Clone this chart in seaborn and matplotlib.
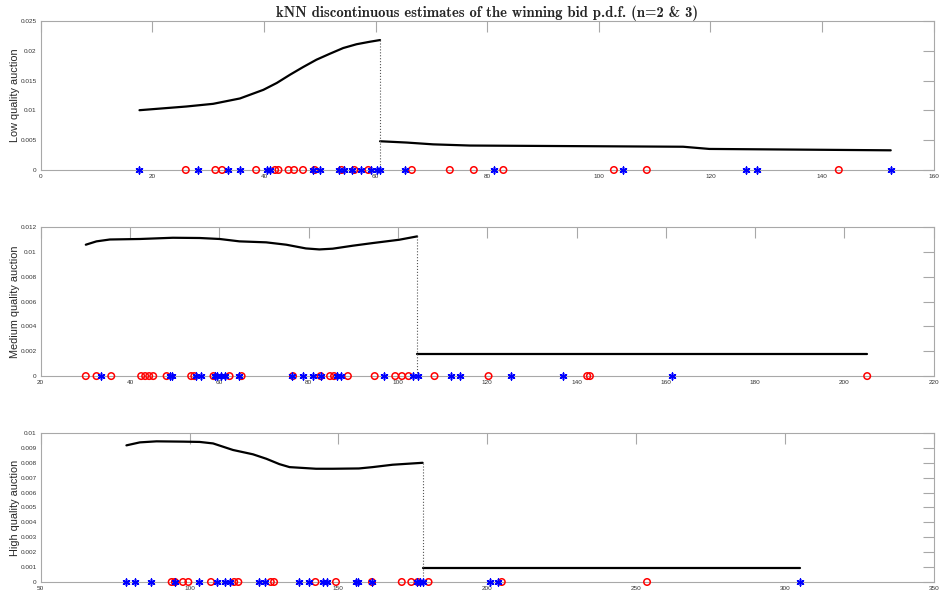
import numpy as np
import seaborn as sns
import matplotlib.pyplot as plt
from matplotlib.ticker import FuncFormatter

sns.set_style('white')
plt.rcParams['font.family'] = ['Liberation Sans', 'DejaVu Sans']

# Low quality auction
low_x_left = [17.7, 26.1, 30.9, 35.7, 39.9, 42.3, 44.7, 47.0, 49.4, 51.8, 54.2, 56.6, 59.0, 60.8]
low_y_left = [0.01003, 0.01065, 0.0111, 0.0120, 0.01345, 0.0146, 0.0160, 0.01726, 0.0185,
              0.0195, 0.02046, 0.0211, 0.02152, 0.0218]
low_x_right = [60.8, 65.6, 70.3, 76.9, 115.1, 119.8, 152.3]
low_y_right = [0.00482, 0.0046, 0.0043, 0.0041, 0.0039, 0.00353, 0.0033]
low_n2 = [17.7, 28.2, 33.6, 35.7, 40.5, 41.0, 48.8, 50.0, 53.5, 54.4, 55.7, 57.3, 59.1, 60.2,
          60.8, 65.3, 81.2, 104.3, 126.4, 128.4, 152.3]
low_n3 = [26.0, 31.3, 32.5, 38.6, 42.0, 42.6, 44.4, 45.4, 47.0, 49.1, 53.9, 56.2, 58.7, 66.5,
          73.3, 77.6, 82.9, 102.7, 108.6, 143.0]

# Medium quality auction
med_x_left = [30.1, 32.5, 35.5, 42.2, 49.6, 55.6, 60.1, 64.5, 70.5, 75.0, 79.4, 82.4, 85.4,
              89.9, 94.3, 100.3, 104.3]
med_y_left = [0.01058, 0.01085, 0.0110, 0.01104, 0.01114, 0.01112, 0.01104, 0.01085, 0.01077,
              0.01058, 0.01028, 0.0102, 0.01026, 0.0105, 0.01071, 0.01098, 0.01125]
med_x_right = [104.3, 205.1]
med_y_right = [0.00178, 0.00178]
med_n2 = [33.6, 48.9, 49.5, 54.7, 55.9, 59.0, 59.5, 60.4, 61.3, 64.4, 76.3, 78.8, 80.9, 82.7,
          86.3, 87.2, 96.9, 103.3, 104.5, 111.9, 113.9, 125.4, 137.0, 161.5]
med_n3 = [30.1, 32.5, 35.8, 42.5, 43.4, 44.3, 45.2, 48.2, 53.7, 54.4, 58.7, 62.3, 65.0, 76.5,
          82.7, 84.8, 85.7, 88.8, 94.8, 99.4, 100.9, 102.4, 108.2, 120.3, 142.4, 143.0, 205.1]

# High quality auction
high_x_left = [78.8, 83.3, 88.9, 97.8, 103.4, 107.9, 114.6, 121.3, 125.8, 130.2, 133.6, 142.5,
               148.1, 156.9, 161.5, 168.2, 178.3]
high_y_left = [0.00917, 0.00937, 0.00944, 0.00942, 0.0094, 0.0093, 0.00886, 0.00857, 0.00827,
               0.00791, 0.00771, 0.0076, 0.0076, 0.00762, 0.00771, 0.00787, 0.0080]
high_x_right = [178.3, 305.2]
high_y_right = [0.00092, 0.00092]
high_n2 = [78.8, 81.8, 87.2, 95.1, 103.2, 109.2, 111.9, 113.5, 123.3, 125.5, 136.9, 140.1,
           145.0, 146.3, 155.9, 156.6, 161.3, 176.3, 177.4, 178.3, 201.1, 203.6, 305.2]
high_n3 = [94.0, 95.1, 97.8, 99.6, 107.2, 115.0, 116.4, 127.3, 128.4, 142.3, 149.2, 161.3,
           171.3, 174.5, 176.7, 180.3, 204.9, 253.7]

panels = [
    ('Low quality auction', low_x_left, low_y_left, low_x_right, low_y_right, low_n2, low_n3,
     (0, 160), np.arange(0, 161, 20), (0, 0.025), np.arange(0, 0.0251, 0.005)),
    ('Medium quality auction', med_x_left, med_y_left, med_x_right, med_y_right, med_n2, med_n3,
     (20, 220), np.arange(20, 221, 20), (0, 0.012), np.arange(0, 0.0121, 0.002)),
    ('High quality auction', high_x_left, high_y_left, high_x_right, high_y_right, high_n2, high_n3,
     (50, 350), np.arange(50, 351, 50), (0, 0.01), np.arange(0, 0.0101, 0.001)),
]

fig = plt.figure(figsize=(9.4, 5.96), dpi=100)
bottoms = [0.7148, 0.369, 0.0235]
grey = '#a8a8a8'

for (label, xl, yl, xr, yr, n2, n3, xlim, xt, ylim, yt), b in zip(panels, bottoms):
    ax = fig.add_axes([0.0433, b, 0.950, 0.25])
    sns.lineplot(x=xl, y=yl, color='black', linewidth=1.6, ax=ax, sort=False, estimator=None)
    sns.lineplot(x=xr, y=yr, color='black', linewidth=1.6, ax=ax, sort=False, estimator=None)
    # dotted jump at the discontinuity
    ax.plot([xl[-1], xl[-1]], [yl[-1], 0], linestyle=':', color='#555555', linewidth=0.8)
    sns.scatterplot(x=n3, y=np.zeros(len(n3)), marker='o', s=22, facecolor='none',
                    edgecolor='red', linewidth=1.1, ax=ax, zorder=3, clip_on=False)
    sns.scatterplot(x=n2, y=np.zeros(len(n2)), marker=(6, 2, 0), s=24, color='blue',
                    edgecolor='blue', linewidth=1.1, ax=ax, zorder=4, clip_on=False)
    ax.set_xlim(*xlim)
    ax.set_ylim(*ylim)
    ax.set_xticks(xt)
    ax.set_yticks(yt)
    ax.xaxis.set_major_formatter(FuncFormatter(lambda v, p: '%g' % v))
    ax.yaxis.set_major_formatter(FuncFormatter(lambda v, p: '%g' % round(v, 4)))
    ax.tick_params(direction='in', length=8, width=0.8, color=grey, labelsize=4.6,
                   labelcolor='#333333', top=True, right=True, pad=3)
    for s in ax.spines.values():
        s.set_color(grey)
        s.set_linewidth(0.8)
    ax.set_ylabel(label, fontsize=7.8)
    ax.yaxis.set_label_coords(-0.023, 0.5)

fig.axes[0].set_title('kNN discontinuous estimates of the winning bid p.d.f. (n=2 & 3)',
                      fontsize=10.6, fontweight='bold', family=['cmb10', 'DejaVu Serif'], pad=3)

fig.savefig('out.png', dpi=100)
